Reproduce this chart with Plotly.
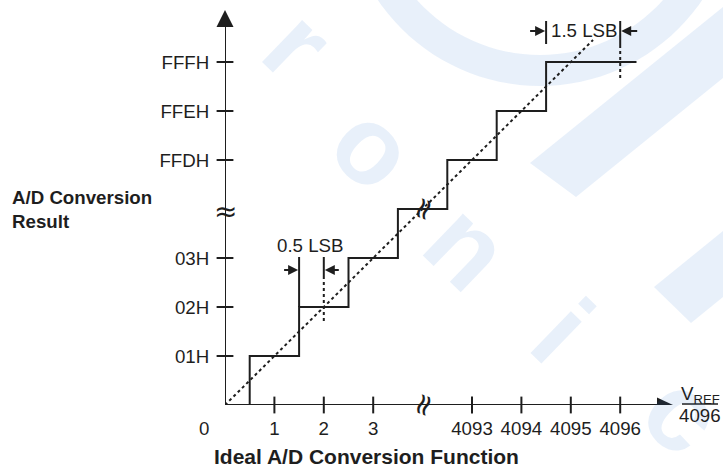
import math
import plotly.graph_objects as go

# ---------------- data (positions on the broken axes, in LSB / code slots) -------------
x_tick_pos = [1, 2, 3, 5, 6, 7, 8]
x_tick_text = ["1", "2", "3", "4093", "4094", "4095", "4096"]
y_tick_pos = [1, 2, 3, 5, 6, 7]
y_tick_text = ["01H", "02H", "03H", "FFDH", "FFEH", "FFFH"]

# staircase: transition points (x) and resulting codes (y), slot 4 = axis break
step_x = [0, 0.5, 1.5, 2.5, 3.5, 4.5, 5.5, 6.5, 8.33]
step_y = [0, 1, 2, 3, 4, 5, 6, 7, 7]

# ideal (dotted) transfer line
ideal_x = [0, 7.45]
ideal_y = [0, 7.45]

# dimension markers
half_lsb = dict(left=1.5, right=2.0, label="0.5 LSB")
one_half_lsb = dict(left=6.5, right=8.0, label="1.5 LSB")

# background watermark letters
wm_letters = ["r", "o", "n", "i", "c"]

# ---------------- layout geometry ----------------
W, H = 723, 468
L, R, T, B = 225, 30, 2, 63
PX_X = 49.4
PX_Y = 49.0
XMAX = (W - L - R) / PX_X
YMAX = (H - T - B) / PX_Y

INK = "#1e1e1e"
WM = "rgba(47,122,213,0.11)"
FONT = "Liberation Sans, Arial, sans-serif"
FS = 18.7


def ux(px):
    return (px - L) / PX_X


def vy(py):
    return (H - B - py) / PX_Y


def pxp(px):
    return (px - L) / (W - L - R)


def pyp(py):
    return (H - B - py) / (H - T - B)


X_TIP = ux(673)
Y_TIP = vy(10)

fig = go.Figure()

# axes lines
fig.add_trace(go.Scatter(x=[0, X_TIP - 12 / PX_X], y=[0, 0], mode="lines",
                         line=dict(color=INK, width=2), hoverinfo="skip"))
fig.add_trace(go.Scatter(x=[0, 0], y=[0, Y_TIP - 14 / PX_Y], mode="lines",
                         line=dict(color=INK, width=2), hoverinfo="skip"))

# crossing tick marks
fig.add_trace(go.Scatter(x=x_tick_pos, y=[0] * len(x_tick_pos), mode="markers",
                         marker=dict(symbol="line-ns", size=12, line=dict(color=INK, width=2)),
                         hoverinfo="skip"))
fig.add_trace(go.Scatter(x=[0] * len(y_tick_pos), y=y_tick_pos, mode="markers",
                         marker=dict(symbol="line-ew", size=12, line=dict(color=INK, width=2)),
                         hoverinfo="skip"))

# ideal dotted line
fig.add_trace(go.Scatter(x=ideal_x, y=ideal_y, mode="lines",
                         line=dict(color=INK, width=2, dash="dot"), hoverinfo="skip"))

# staircase
fig.add_trace(go.Scatter(x=step_x, y=step_y, mode="lines", line_shape="hv",
                         line=dict(color=INK, width=2), hoverinfo="skip"))

shapes = []


def tri(xa, ya, path, paper=False):
    shapes.append(dict(type="path", xref="paper" if paper else "x", yref="paper" if paper else "y",
                       xsizemode="pixel", ysizemode="pixel",
                       xanchor=xa, yanchor=ya, path=path, fillcolor=INK, line=dict(width=0)))


def seg(x0, y0, x1, y1, dash="solid"):
    shapes.append(dict(type="line", xref="x", yref="y", x0=x0, y0=y0, x1=x1, y1=y1,
                       line=dict(color=INK, width=2, dash=dash)))


def wm_path(pts_list):
    # pts in screen pixels (from top-left); converted to pixel offsets from figure top-left
    d = ""
    for pts in pts_list:
        d += "M " + " L ".join("%.1f %.1f" % (x, -y) for x, y in pts) + " Z "
    shapes.append(dict(type="path", xref="paper", yref="paper", xsizemode="pixel", ysizemode="pixel",
                       xanchor=pxp(0), yanchor=pyp(0), path=d, fillcolor=WM, fillrule="evenodd",
                       line=dict(width=0), layer="below"))


# ---- watermark (logo ring + bands) ----
cx, cy = 540, -110
outer = [(cx + 196 * math.cos(t * math.pi / 60), cy + 196 * math.sin(t * math.pi / 60)) for t in range(120)]
inner = [(cx + 165 * math.cos(t * math.pi / 60), cy + 165 * math.sin(t * math.pi / 60)) for t in range(120)]
wm_path([outer, inner[::-1]])
wm_path([[(530, 163), (723, 7), (723, 78), (576, 197)]])
wm_path([[(654, 287), (723, 231), (723, 297), (691, 323)]])

# axis arrow heads
tri(X_TIP, 0, "M 0 0 L -16 7.5 L -16 -7.5 Z")
tri(pxp(225), pyp(10), "M 0 0 L -8.5 -17 L 8.5 -17 Z", paper=True)

# 0.5 LSB dimension
a_y = vy(270)
seg(half_lsb["left"], 2, half_lsb["left"], vy(257))
seg(half_lsb["right"], vy(257), half_lsb["right"], vy(276))
seg(half_lsb["right"], vy(276), half_lsb["right"], vy(321), dash="dot")
tri(half_lsb["left"], a_y, "M -1 0 L -11 5 L -11 -5 Z")
seg(half_lsb["left"] - 10 / PX_X, a_y, half_lsb["left"] - 15 / PX_X, a_y)
tri(half_lsb["right"], a_y, "M 1 0 L 11 5 L 11 -5 Z")
seg(half_lsb["right"] + 10 / PX_X, a_y, half_lsb["right"] + 15 / PX_X, a_y)

# 1.5 LSB dimension
b_y = vy(31)
seg(one_half_lsb["left"], vy(21), one_half_lsb["left"], vy(44))
seg(one_half_lsb["right"], vy(21), one_half_lsb["right"], vy(45))
seg(one_half_lsb["right"], vy(45), one_half_lsb["right"], vy(78), dash="dot")
tri(one_half_lsb["left"], b_y, "M -1 0 L -11 5 L -11 -5 Z")
seg(one_half_lsb["left"] - 10 / PX_X, b_y, one_half_lsb["left"] - 16 / PX_X, b_y)
tri(one_half_lsb["right"], b_y, "M 1 0 L 11 5 L 11 -5 Z")
seg(one_half_lsb["right"] + 10 / PX_X, b_y, one_half_lsb["right"] + 17 / PX_X, b_y)

# V_REF fraction bar (paper coords)
shapes.append(dict(type="line", xref="paper", yref="paper",
                   x0=pxp(682), x1=pxp(718), y0=pyp(404), y1=pyp(404),
                   line=dict(color=INK, width=1.5)))

annotations = []


def txt(x, y, text, size=FS, bold=False, xanchor="center", angle=0, ref="x", family=FONT,
        color=INK, **kw):
    annotations.append(dict(x=x, y=y, xref="x" if ref == "x" else "paper",
                            yref="y" if ref == "x" else "paper",
                            text=("<b>%s</b>" % text) if bold else text,
                            showarrow=False, xanchor=xanchor, yanchor="middle", textangle=angle,
                            font=dict(family=family, size=size, color=color), **kw))


# watermark letters (drawn first, underneath the chart texts)
wm_pos = [(298, 44), (374, 146), (468, 245), (563, 330), (684, 412)]
for ch, (px, py) in zip(wm_letters, wm_pos):
    txt(pxp(px), pyp(py), ch, size=110, bold=True, angle=44, ref="p", color=WM)

txt(ux(310), vy(245), half_lsb["label"])
txt(ux(584), vy(30), one_half_lsb["label"])
txt(pxp(204), pyp(428), "0", ref="p")
txt(pxp(10), pyp(209), "A/D Conversion<br>Result", bold=True, xanchor="left", align="left", ref="p")
txt(pxp(366), pyp(456), "Ideal A/D Conversion Function", size=21, bold=True, ref="p")
txt(pxp(700), pyp(395), "V<sub>REF</sub>", ref="p")
txt(pxp(700), pyp(415), "4096", ref="p")

# axis break marks
BRK = "DejaVu Sans, sans-serif"
txt(0, vy(211), "≈", size=28, family=BRK)
txt(ux(422), 0, "≈", size=30, angle=-70, family=BRK)
txt(ux(422), 4, "≈", size=30, angle=-70, family=BRK)

fig.update_layout(
    width=W, height=H, margin=dict(l=L, r=R, t=T, b=B, autoexpand=False),
    paper_bgcolor="white", plot_bgcolor="rgba(0,0,0,0)",
    showlegend=False, shapes=shapes, annotations=annotations,
    xaxis=dict(range=[0, XMAX], showgrid=False, zeroline=False, showline=False,
               automargin=False,
               tickmode="array", tickvals=x_tick_pos, ticktext=x_tick_text,
               ticks="outside", ticklen=7, tickcolor="rgba(0,0,0,0)",
               tickfont=dict(family=FONT, size=FS, color=INK), fixedrange=True),
    yaxis=dict(range=[0, YMAX], showgrid=False, zeroline=False, showline=False,
               automargin=False,
               tickmode="array", tickvals=y_tick_pos, ticktext=y_tick_text,
               ticks="outside", ticklen=11, tickcolor="rgba(0,0,0,0)",
               tickfont=dict(family=FONT, size=FS, color=INK), fixedrange=True),
)
fig.update_traces(cliponaxis=False)

fig.write_html("out.html", config={"displayModeBar": False},
               post_script="document.body.style.margin='0';document.body.style.padding='0';")
